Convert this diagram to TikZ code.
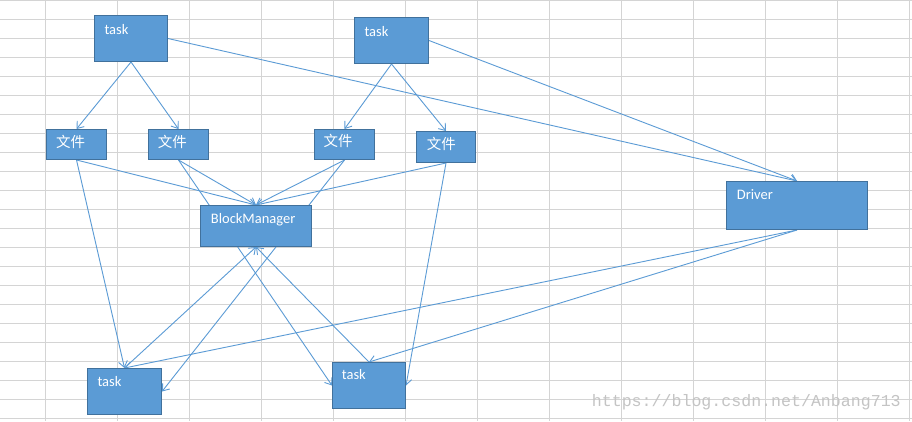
\documentclass[tikz,border=0pt]{standalone}
\usepackage{fontspec}
\setmainfont{Carlito}
\newfontfamily\cjk{Noto Sans CJK SC}
\newfontfamily\wmfont{Liberation Mono}
\usetikzlibrary{arrows.meta}
\definecolor{boxfill}{HTML}{5B9BD5}
\definecolor{boxline}{HTML}{41719C}
\definecolor{gridc}{HTML}{D4D4D4}
\definecolor{wmc}{HTML}{C4C4C4}
\pgfdeclarelayer{gridlayer}
\pgfdeclarelayer{linelayer}
\pgfsetlayers{gridlayer,linelayer,main}
\begin{document}
\begin{tikzpicture}[x=1pt,y=-1pt,
  box/.style={draw=boxline, fill=boxfill, line width=1pt, inner sep=0pt, anchor=north west},
  lbl/.style={text=white, inner sep=0pt, anchor=base west, font=\fontsize{14.5}{16}\selectfont},
  clbl/.style={text=white, inner sep=0pt, anchor=center, font=\cjk\fontsize{14.5}{16}\selectfont},
  conn/.style={draw=boxfill, line width=0.9pt, -{Straight Barb[length=6pt,width=9pt]}}]
\useasboundingbox (0,0) rectangle (912,421);
\begin{pgfonlayer}{gridlayer}
  \fill[white] (0,0) rectangle (912,421);
  \foreach \k in {0,...,12} \draw[gridc, line width=1pt] ({45.5+72*\k},0) -- ({45.5+72*\k},421);
  \foreach \k in {0,...,22} \draw[gridc, line width=1pt] (0,{0.5+19*\k}) -- (912,{0.5+19*\k});
\end{pgfonlayer}

% boxes
\node[box, minimum width=73pt, minimum height=46pt] (t1) at (94,15) {};
\node[box, minimum width=74pt, minimum height=46pt] (t2) at (354,17) {};
\node[box, minimum width=60pt, minimum height=30pt] (f1) at (46,129) {};
\node[box, minimum width=60pt, minimum height=30pt] (f2) at (148,129) {};
\node[box, minimum width=60pt, minimum height=30pt] (f3) at (314,129) {};
\node[box, minimum width=59pt, minimum height=31pt] (f4) at (416,131) {};
\node[box, minimum width=111pt, minimum height=41pt] (bm) at (200,205) {};
\node[box, minimum width=141pt, minimum height=48pt] (dr) at (726,181) {};
\node[box, minimum width=74pt, minimum height=46pt] (t3) at (87,368) {};
\node[box, minimum width=73pt, minimum height=46pt] (t4) at (332,362) {};

% labels
\node[lbl] (t1l) at (104.3,34.3) {task};
\node[lbl] (t2l) at (364.3,36) {task};
\node[clbl] (f1l) at (70.5,142) {文件};
\node[clbl] (f2l) at (172.3,142) {文件};
\node[clbl] (f3l) at (338,141) {文件};
\node[clbl] (f4l) at (441.3,144.2) {文件};
\node[lbl] (bml) at (210.7,223.7) {BlockManager};
\node[lbl] (drl) at (736.7,199.3) {Driver};
\node[lbl] (t3l) at (97.3,386.7) {task};
\node[lbl] (t4l) at (341.7,379.3) {task};

% connectors
\begin{pgfonlayer}{linelayer}
  \draw[conn] (t1.south) -- (f1.north);
  \draw[conn] (t1.south) -- (f2.north);
  \draw[conn] (t1.east) -- (dr.north);
  \draw[conn] (t2.south) -- (f3.north);
  \draw[conn] (t2.south) -- (f4.north);
  \draw[conn] (t2.east) -- (dr.north);
  \draw[conn] (f1.south) -- (bm.north);
  \draw[conn] (f2.south) -- (bm.north);
  \draw[conn] (f3.south) -- (bm.north);
  \draw[conn] (f4.south) -- (bm.north);
  \draw[conn] (f1.south) -- (t3.north);
  \draw[conn] (f2.south) -- (t4.west);
  \draw[conn] (f3.south) -- (t3.east);
  \draw[conn] (f4.south) -- (t4.east);
  \draw[conn] (t3.north) -- (bm.south);
  \draw[conn] (t4.north) -- (bm.south);
  \draw[conn] (dr.south) -- (t3.north);
  \draw[conn] (dr.south) -- (t4.north);
\end{pgfonlayer}

% watermark
\node[anchor=base west, inner sep=0pt, text=wmc, font=\wmfont\fontsize{16.6}{18}\selectfont] (wm) at (591.7,406) {https://blog.csdn.net/Anbang713};
\end{tikzpicture}
\end{document}
